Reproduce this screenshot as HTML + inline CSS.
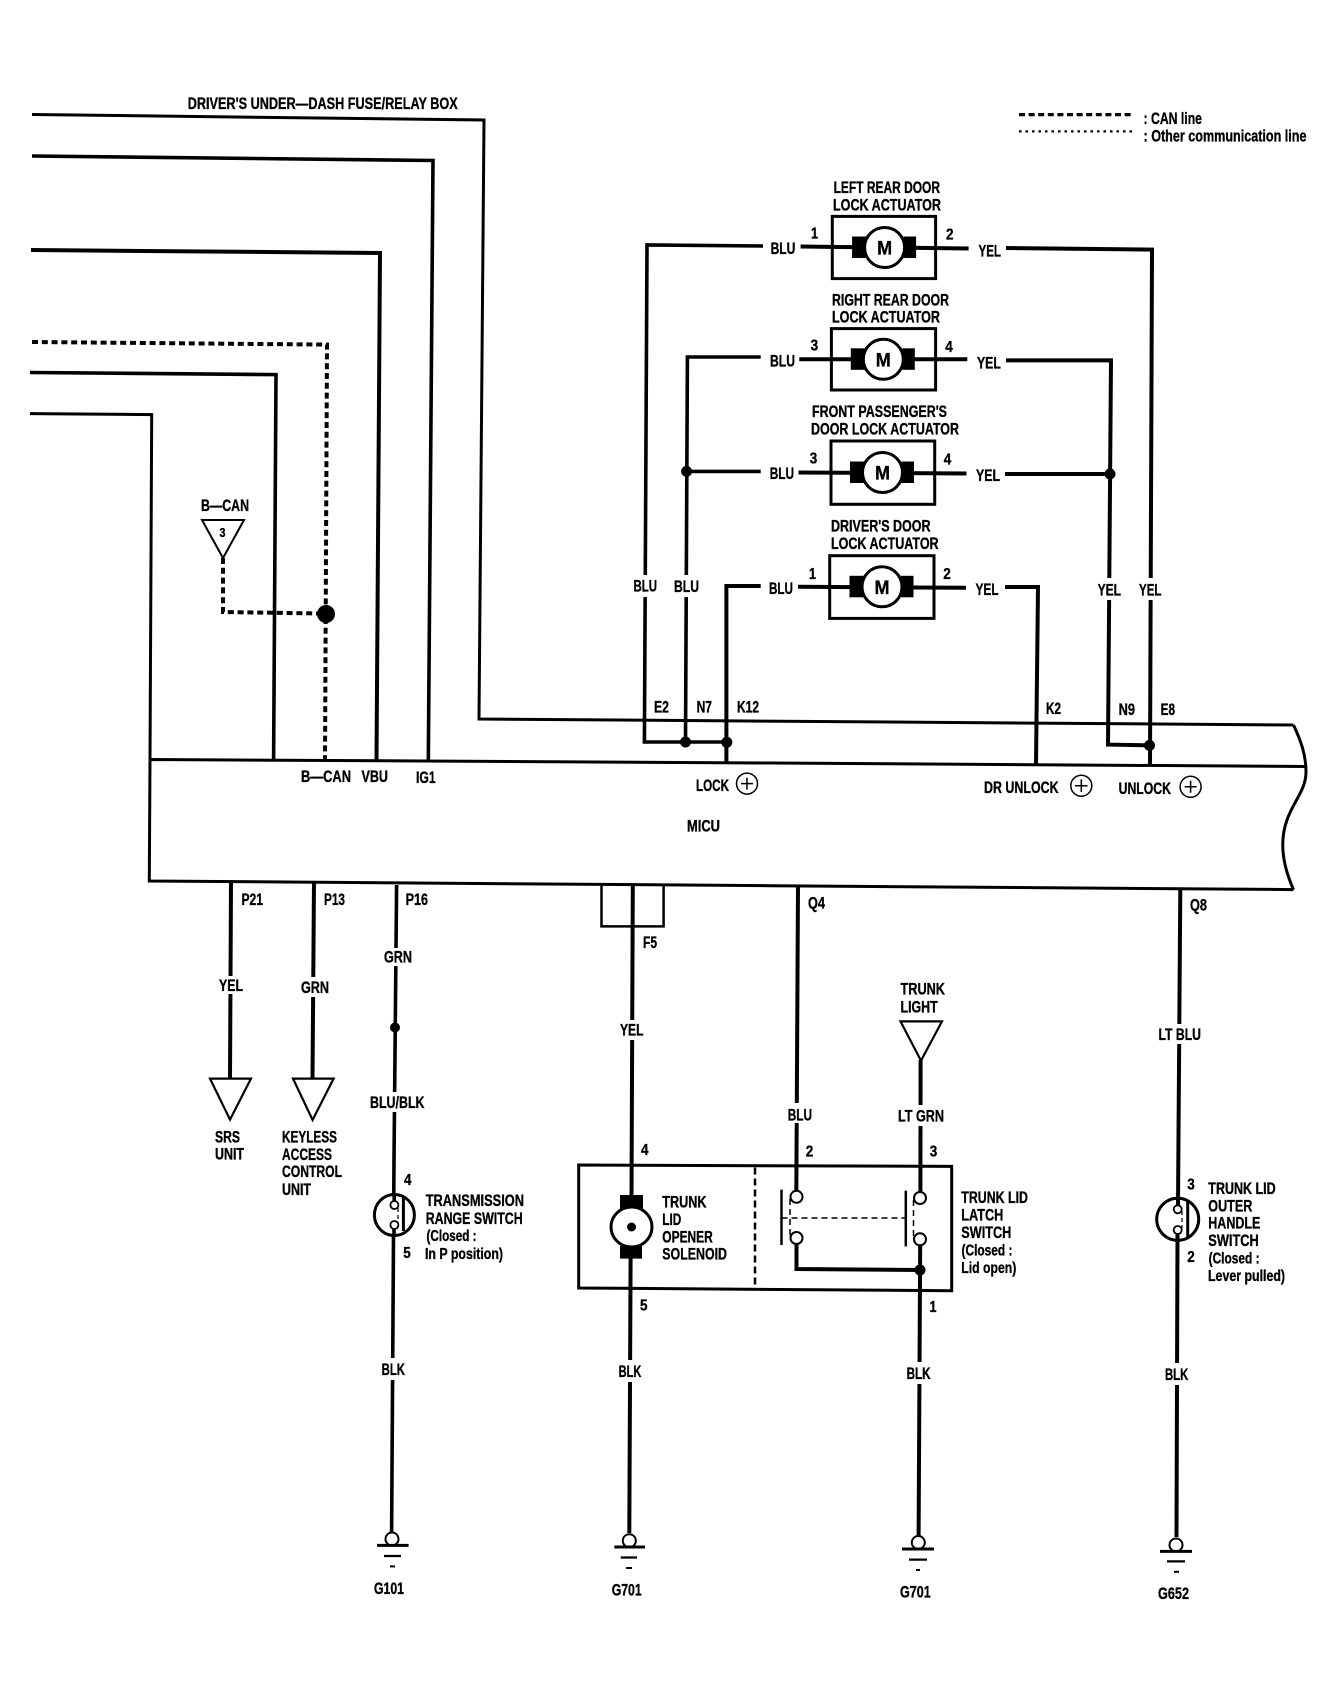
<!DOCTYPE html>
<html lang="en">
<head>
<meta charset="utf-8">
<title>Wiring diagram</title>
<style>
html,body{margin:0;padding:0;background:#fff}
svg{display:block}
text{font-family:"Liberation Sans",sans-serif;font-weight:bold;font-size:17px;fill:#000;stroke:#000;stroke-width:.35px}
.w{stroke:#000;stroke-linejoin:miter}
.w:not([fill]){fill:none}
.p{font-size:16px}
.s{font-size:16px}
</style>
</head>
<body>
<svg xmlns="http://www.w3.org/2000/svg" width="1344" height="1698" viewBox="0 0 1344 1698">
<rect width="1344" height="1698" fill="#fff"/>

<!-- Upper left wires -->
<polyline class="w" stroke-width="3" points="32,114.5 484,120 479,719 1293.5,725"/>
<polyline class="w" stroke-width="3.6" points="32,156 433,160.5 428.3,762"/>
<polyline class="w" stroke-width="4" points="31,250 380,253 376.5,760"/>
<polyline class="w" stroke-width="3.6" points="30,372.5 276,374.6 273.6,760"/>
<polyline class="w" stroke-width="3" points="30,413.6 151.7,414.6 150,760"/>
<polyline class="w" stroke-width="4" stroke-dasharray="6 3.8" points="32,342 327,344.6 325,759"/>
<polyline class="w" stroke-width="4" stroke-dasharray="6 3.8" points="223,558 223,612 325.7,613.6"/>
<ellipse cx="326" cy="614" rx="9" ry="9"/>
<polygon class="w" stroke-width="2" fill="#fff" points="202,520 244,520 223,558"/>

<!-- MICU -->
<path class="w" stroke-width="3" d="M1293.5,889.6 L772,885.7 L149.3,881 L150,759.5 L772,763 L1306,766.5"/>
<path class="w" stroke-width="3" d="M1293.5,725 C1301,741 1306,755 1306,772 C1306,790 1293,802 1287,820 C1279,842 1283,866 1293.5,889.6"/>

<!-- Door actuator wiring -->
<polyline class="w" stroke-width="3.6" points="763,246 647,245 644.4,742 727,742"/>
<polyline class="w" stroke-width="3.6" points="760.7,357 687.4,357 685.5,742"/>
<line class="w" stroke-width="3.6" x1="686.6" y1="471.4" x2="760.7" y2="471.4"/>
<polyline class="w" stroke-width="4" points="760.7,586 726.4,586 726.4,763"/>
<polyline class="w" stroke-width="4" points="1006,248 1152,249.6 1150,766"/>
<polyline class="w" stroke-width="4" points="1006,360.4 1111,360.4 1108,744.6 1149.5,745.4"/>
<line class="w" stroke-width="4" x1="1005" y1="474" x2="1110" y2="474"/>
<polyline class="w" stroke-width="4" points="1005,587 1038,587 1036,764"/>
<circle cx="685.5" cy="742" r="5.5"/>
<circle cx="726.8" cy="742.3" r="5.5"/>
<circle cx="686.6" cy="471.4" r="5.5"/>
<circle cx="1110" cy="474" r="5.5"/>
<circle cx="1149.5" cy="745.4" r="5.5"/>

<!-- Actuators -->
<rect class="w" stroke-width="3" x="832.3" y="216.4" width="103.3" height="62.2" fill="#fff"/>
<rect class="w" stroke-width="3" x="831.4" y="328.6" width="104.2" height="61.4" fill="#fff"/>
<rect class="w" stroke-width="3" x="831" y="441" width="103.7" height="63.3" fill="#fff"/>
<rect class="w" stroke-width="3" x="829.7" y="555.7" width="104.3" height="62.7" fill="#fff"/>

<g transform="translate(884.6,247.5)">
<line class="w" stroke-width="4" x1="-84" y1="-1" x2="84" y2="1"/>
<rect x="-32.5" y="-11" width="14" height="21.5"/><rect x="19" y="-11" width="12.5" height="21.5"/>
<circle class="w" stroke-width="3" r="20" fill="#fff"/>
<text x="-7.5" y="7" style="font-size:19px" textLength="15" lengthAdjust="spacingAndGlyphs">M</text>
</g>
<g transform="translate(883.3,359.3)">
<line class="w" stroke-width="4" x1="-84" y1="0" x2="84" y2="0"/>
<rect x="-32.5" y="-11" width="14" height="21.5"/><rect x="19" y="-11" width="12.5" height="21.5"/>
<circle class="w" stroke-width="3" r="20" fill="#fff"/>
<text x="-7.5" y="7" style="font-size:19px" textLength="15" lengthAdjust="spacingAndGlyphs">M</text>
</g>
<g transform="translate(882.5,472.5)">
<line class="w" stroke-width="4" x1="-84" y1="0" x2="84" y2="1"/>
<rect x="-32.5" y="-11" width="14" height="21.5"/><rect x="19" y="-11" width="12.5" height="21.5"/>
<circle class="w" stroke-width="3" r="20" fill="#fff"/>
<text x="-7.5" y="7" style="font-size:19px" textLength="15" lengthAdjust="spacingAndGlyphs">M</text>
</g>
<g transform="translate(882,586.8)">
<line class="w" stroke-width="4" x1="-84" y1="0" x2="84" y2="1"/>
<rect x="-32.5" y="-11" width="14" height="21.5"/><rect x="19" y="-11" width="12.5" height="21.5"/>
<circle class="w" stroke-width="3" r="20" fill="#fff"/>
<text x="-7.5" y="7" style="font-size:19px" textLength="15" lengthAdjust="spacingAndGlyphs">M</text>
</g>

<!-- Lower wires -->
<polyline class="w" stroke-width="4" points="231,881 230,1078.6"/>
<polyline class="w" stroke-width="4" points="314,882 312.5,1078.6"/>
<polyline class="w" stroke-width="3.6" points="396.6,885 394,1160 391.6,1533"/>
<circle cx="395" cy="1027.5" r="5"/>
<polygon class="w" stroke-width="2.2" fill="#fff" points="210,1078.6 251,1078.6 230,1119.6"/>
<polygon class="w" stroke-width="2.2" fill="#fff" points="293,1078.6 333.6,1078.6 312.6,1120"/>
<polygon class="w" stroke-width="2.2" fill="#fff" points="900.5,1021.4 942,1021.4 921,1060.7"/>
<polyline class="w" stroke-width="2.5" points="601.5,885.7 601.5,926.4 663.6,926.4 663.6,886"/>
<polyline class="w" stroke-width="4" points="632.8,886 631.5,1195"/>
<polyline class="w" stroke-width="4" points="630.6,1258 629.3,1533"/>
<polyline class="w" stroke-width="4" points="798,885 796.3,1196"/>
<polyline class="w" stroke-width="4" points="1180.3,889 1178,1205"/>
<polyline class="w" stroke-width="4" points="1177.5,1232 1176.5,1537"/>
<polyline class="w" stroke-width="4" points="920.6,1060 920.4,1197"/>
<polyline class="w" stroke-width="4" points="920.2,1240 918.6,1537"/>

<!-- Trunk box -->
<polygon class="w" stroke-width="3" points="578.7,1165 951.7,1166.4 951.7,1290.7 578.7,1288"/>
<line class="w" stroke-width="2.5" stroke-dasharray="7 4" x1="755" y1="1167.5" x2="755" y2="1287"/>
<rect x="620" y="1195" width="23" height="13.6"/>
<rect x="620" y="1246" width="22" height="12.6"/>
<ellipse class="w" stroke-width="3" cx="631.5" cy="1227" rx="20.5" ry="20" fill="#fff"/>
<circle cx="631.5" cy="1227" r="4.5"/>
<polyline class="w" stroke-width="4" points="796.5,1242 796.5,1269 920,1270"/>
<circle cx="920" cy="1270" r="5.5"/>
<line class="w" stroke-width="2.5" x1="781.5" y1="1189.6" x2="781.5" y2="1245"/>
<line class="w" stroke-width="2.5" x1="905.8" y1="1190.7" x2="905.8" y2="1246.4"/>
<line class="w" stroke-width="1.5" stroke-dasharray="6 4" x1="781.5" y1="1218" x2="905" y2="1218"/>
<line class="w" stroke-width="1.5" stroke-dasharray="6 4" x1="790" y1="1199" x2="790" y2="1236"/>
<line class="w" stroke-width="1.5" stroke-dasharray="6 4" x1="913.5" y1="1200" x2="913.5" y2="1238"/>
<circle class="w" stroke-width="2" cx="796.5" cy="1196.8" r="6" fill="#fff"/>
<circle class="w" stroke-width="2" cx="796.5" cy="1238" r="6" fill="#fff"/>
<circle class="w" stroke-width="2" cx="920" cy="1198" r="6" fill="#fff"/>
<circle class="w" stroke-width="2" cx="920" cy="1239.3" r="6" fill="#fff"/>

<!-- Round switches -->
<ellipse class="w" stroke-width="3" cx="394.4" cy="1215" rx="20" ry="20.5" fill="#fff"/>
<line class="w" stroke-width="3.6" x1="394.2" y1="1194" x2="394.2" y2="1201"/>
<line class="w" stroke-width="3.6" x1="394" y1="1229" x2="394" y2="1237"/>
<line class="w" stroke-width="3" x1="403.4" y1="1198" x2="403.4" y2="1231"/>
<line class="w" stroke-width="1.2" stroke-dasharray="4 3" x1="398" y1="1208" x2="398" y2="1224"/>
<circle class="w" stroke-width="1.8" cx="394.4" cy="1205" r="4" fill="#fff"/>
<circle class="w" stroke-width="1.8" cx="394.4" cy="1225" r="4" fill="#fff"/>

<ellipse class="w" stroke-width="3" cx="1177.7" cy="1219.3" rx="21" ry="21" fill="#fff"/>
<line class="w" stroke-width="4" x1="1178" y1="1198" x2="1178" y2="1206"/>
<line class="w" stroke-width="4" x1="1177.5" y1="1234" x2="1177.5" y2="1242"/>
<line class="w" stroke-width="3" x1="1187.7" y1="1201" x2="1187.7" y2="1237"/>
<line class="w" stroke-width="1.2" stroke-dasharray="4 3" x1="1182" y1="1211" x2="1182" y2="1228"/>
<circle class="w" stroke-width="1.8" cx="1177.7" cy="1209.3" r="4" fill="#fff"/>
<circle class="w" stroke-width="1.8" cx="1177.7" cy="1230" r="4" fill="#fff"/>

<!-- Grounds -->
<circle class="w" stroke-width="2" cx="392" cy="1539" r="6.5" fill="#fff"/>
<line class="w" stroke-width="3" x1="377" y1="1545.4" x2="408.6" y2="1545.4"/>
<line class="w" stroke-width="2.2" x1="384" y1="1556" x2="401" y2="1556"/>
<line class="w" stroke-width="2" x1="390" y1="1566.4" x2="395" y2="1566.4"/>

<circle class="w" stroke-width="2" cx="629.3" cy="1540.7" r="6.5" fill="#fff"/>
<line class="w" stroke-width="3" x1="614.3" y1="1547" x2="645" y2="1547"/>
<line class="w" stroke-width="2.2" x1="620.7" y1="1557.5" x2="637" y2="1557.5"/>
<line class="w" stroke-width="2" x1="626" y1="1568" x2="632" y2="1568"/>

<circle class="w" stroke-width="2" cx="918.3" cy="1542.5" r="6.5" fill="#fff"/>
<line class="w" stroke-width="3" x1="902" y1="1549" x2="934" y2="1549"/>
<line class="w" stroke-width="2.2" x1="909" y1="1559.6" x2="927" y2="1559.6"/>
<line class="w" stroke-width="2" x1="916" y1="1570" x2="920" y2="1570"/>

<circle class="w" stroke-width="2" cx="1176" cy="1545" r="6.5" fill="#fff"/>
<line class="w" stroke-width="3" x1="1160" y1="1551.4" x2="1192" y2="1551.4"/>
<line class="w" stroke-width="2.2" x1="1167" y1="1561.4" x2="1185" y2="1561.4"/>
<line class="w" stroke-width="2" x1="1174" y1="1571.8" x2="1179" y2="1571.8"/>

<!-- Circle plus -->
<g class="w" stroke-width="1.5">
<circle cx="747" cy="783.6" r="10.5" fill="#fff"/><path d="M741,783.6H753M747,777.6V789.6"/>
<circle cx="1081.3" cy="785.7" r="10.5" fill="#fff"/><path d="M1075,785.7H1087.6M1081.3,779.4V792"/>
<circle cx="1190.6" cy="786.8" r="10.5" fill="#fff"/><path d="M1184.6,786.8H1196.6M1190.6,780.8V792.8"/>
</g>

<!-- Legend -->
<line class="w" stroke-width="3.2" stroke-dasharray="6 3.6" x1="1019" y1="114.6" x2="1133.6" y2="114.6"/>
<line class="w" stroke-width="2.2" stroke-dasharray="2.5 4" x1="1019" y1="131.4" x2="1133.6" y2="131.4"/>

<!-- Label gaps -->
<g fill="#fff">
<rect x="640" y="575" width="12" height="22"/>
<rect x="680" y="575" width="12" height="22"/>
<rect x="1103" y="578" width="12" height="22"/>
<rect x="1144" y="578" width="12" height="22"/>
<rect x="225" y="976" width="12" height="18"/>
<rect x="307" y="977" width="12" height="20"/>
<rect x="389" y="948" width="12" height="18"/>
<rect x="388" y="1092" width="12" height="20"/>
<rect x="626" y="1020" width="12" height="20"/>
<rect x="791" y="1103" width="12" height="20"/>
<rect x="915" y="1105" width="12" height="21"/>
<rect x="1173" y="1024" width="12" height="20"/>
<rect x="387" y="1358" width="10" height="22"/>
<rect x="624" y="1360" width="10" height="22"/>
<rect x="913" y="1362" width="11" height="22"/>
<rect x="1172" y="1363" width="10" height="22"/>
</g>

<!-- Text -->
<text x="187.7" y="109" textLength="270" lengthAdjust="spacingAndGlyphs">DRIVER'S UNDER—DASH FUSE/RELAY BOX</text>
<text x="1143.5" y="124" textLength="58.5" lengthAdjust="spacingAndGlyphs">: CAN line</text>
<text x="1143.5" y="141.5" textLength="163" lengthAdjust="spacingAndGlyphs">: Other communication line</text>

<text x="833.6" y="193" textLength="106.4" lengthAdjust="spacingAndGlyphs">LEFT REAR DOOR</text>
<text x="833" y="210.3" textLength="108" lengthAdjust="spacingAndGlyphs">LOCK ACTUATOR</text>
<text x="832" y="305.3" textLength="117" lengthAdjust="spacingAndGlyphs">RIGHT REAR DOOR</text>
<text x="832" y="322.4" textLength="108" lengthAdjust="spacingAndGlyphs">LOCK ACTUATOR</text>
<text x="812" y="417" textLength="135" lengthAdjust="spacingAndGlyphs">FRONT PASSENGER'S</text>
<text x="811" y="434.6" textLength="148" lengthAdjust="spacingAndGlyphs">DOOR LOCK ACTUATOR</text>
<text x="831" y="531.7" textLength="99.5" lengthAdjust="spacingAndGlyphs">DRIVER'S DOOR</text>
<text x="831" y="549" textLength="107.6" lengthAdjust="spacingAndGlyphs">LOCK ACTUATOR</text>

<text x="770.6" y="254" textLength="24.8" lengthAdjust="spacingAndGlyphs">BLU</text>
<text x="978.5" y="256.4" textLength="22.5" lengthAdjust="spacingAndGlyphs">YEL</text>
<text x="770" y="366.7" textLength="25" lengthAdjust="spacingAndGlyphs">BLU</text>
<text x="977" y="368.5" textLength="23.8" lengthAdjust="spacingAndGlyphs">YEL</text>
<text x="769.7" y="479" textLength="24.3" lengthAdjust="spacingAndGlyphs">BLU</text>
<text x="976" y="481" textLength="24" lengthAdjust="spacingAndGlyphs">YEL</text>
<text x="769" y="594" textLength="24" lengthAdjust="spacingAndGlyphs">BLU</text>
<text x="975.5" y="595" textLength="23.1" lengthAdjust="spacingAndGlyphs">YEL</text>

<text class="p" x="811" y="238.5" textLength="7" lengthAdjust="spacingAndGlyphs">1</text>
<text class="p" x="946" y="239.5" textLength="7.5" lengthAdjust="spacingAndGlyphs">2</text>
<text class="p" x="810.6" y="350.5" textLength="7.5" lengthAdjust="spacingAndGlyphs">3</text>
<text class="p" x="945.3" y="352" textLength="7.5" lengthAdjust="spacingAndGlyphs">4</text>
<text class="p" x="809.7" y="463.5" textLength="7.5" lengthAdjust="spacingAndGlyphs">3</text>
<text class="p" x="943.8" y="464.5" textLength="7.5" lengthAdjust="spacingAndGlyphs">4</text>
<text class="p" x="809" y="579" textLength="7" lengthAdjust="spacingAndGlyphs">1</text>
<text class="p" x="943.2" y="579" textLength="7.5" lengthAdjust="spacingAndGlyphs">2</text>

<text x="633.5" y="591.7" textLength="23.5" lengthAdjust="spacingAndGlyphs">BLU</text>
<text x="674" y="592" textLength="25" lengthAdjust="spacingAndGlyphs">BLU</text>
<text x="1097.6" y="595.6" textLength="23.4" lengthAdjust="spacingAndGlyphs">YEL</text>
<text x="1139" y="595.6" textLength="22.5" lengthAdjust="spacingAndGlyphs">YEL</text>

<text x="201" y="511" textLength="48" lengthAdjust="spacingAndGlyphs">B—CAN</text>
<text class="s" x="219.5" y="537" style="font-size:13px" textLength="6" lengthAdjust="spacingAndGlyphs">3</text>

<text x="654" y="712.5" textLength="15" lengthAdjust="spacingAndGlyphs">E2</text>
<text x="696.6" y="712.5" textLength="15.4" lengthAdjust="spacingAndGlyphs">N7</text>
<text x="737" y="712.5" textLength="22" lengthAdjust="spacingAndGlyphs">K12</text>
<text x="1046" y="714" textLength="15" lengthAdjust="spacingAndGlyphs">K2</text>
<text x="1118.6" y="715" textLength="16.4" lengthAdjust="spacingAndGlyphs">N9</text>
<text x="1160.6" y="715" textLength="14.4" lengthAdjust="spacingAndGlyphs">E8</text>

<text x="301" y="782" textLength="50" lengthAdjust="spacingAndGlyphs">B—CAN</text>
<text x="361.5" y="782" textLength="26.5" lengthAdjust="spacingAndGlyphs">VBU</text>
<text x="416" y="783" textLength="19.6" lengthAdjust="spacingAndGlyphs">IG1</text>
<text x="696" y="791" textLength="33" lengthAdjust="spacingAndGlyphs">LOCK</text>
<text x="687" y="831.7" textLength="33" lengthAdjust="spacingAndGlyphs">MICU</text>
<text x="984" y="793" textLength="74.6" lengthAdjust="spacingAndGlyphs">DR UNLOCK</text>
<text x="1118.6" y="794" textLength="52.4" lengthAdjust="spacingAndGlyphs">UNLOCK</text>

<text x="241.5" y="905" textLength="21.5" lengthAdjust="spacingAndGlyphs">P21</text>
<text x="324" y="905" textLength="21" lengthAdjust="spacingAndGlyphs">P13</text>
<text x="405.6" y="905" textLength="22.4" lengthAdjust="spacingAndGlyphs">P16</text>
<text x="643" y="948" textLength="14" lengthAdjust="spacingAndGlyphs">F5</text>
<text x="808" y="908.5" textLength="17" lengthAdjust="spacingAndGlyphs">Q4</text>
<text x="1190" y="910.6" textLength="17" lengthAdjust="spacingAndGlyphs">Q8</text>

<text x="219" y="991" textLength="24" lengthAdjust="spacingAndGlyphs">YEL</text>
<text x="301" y="993" textLength="28" lengthAdjust="spacingAndGlyphs">GRN</text>
<text x="384" y="962.4" textLength="28" lengthAdjust="spacingAndGlyphs">GRN</text>
<text x="370" y="1107.8" textLength="54.5" lengthAdjust="spacingAndGlyphs">BLU/BLK</text>
<text x="620" y="1035.6" textLength="23.5" lengthAdjust="spacingAndGlyphs">YEL</text>
<text x="787.7" y="1120.3" textLength="24.3" lengthAdjust="spacingAndGlyphs">BLU</text>
<text x="898" y="1121.4" textLength="46" lengthAdjust="spacingAndGlyphs">LT GRN</text>
<text x="1158.5" y="1040" textLength="42.5" lengthAdjust="spacingAndGlyphs">LT BLU</text>

<text x="215" y="1142.4" textLength="25" lengthAdjust="spacingAndGlyphs">SRS</text>
<text x="215" y="1159.6" textLength="29" lengthAdjust="spacingAndGlyphs">UNIT</text>
<text x="282" y="1142.6" textLength="55" lengthAdjust="spacingAndGlyphs">KEYLESS</text>
<text x="282" y="1160" textLength="50" lengthAdjust="spacingAndGlyphs">ACCESS</text>
<text x="282" y="1177" textLength="60" lengthAdjust="spacingAndGlyphs">CONTROL</text>
<text x="282" y="1194.8" textLength="29" lengthAdjust="spacingAndGlyphs">UNIT</text>

<text x="900.5" y="994.6" textLength="44.5" lengthAdjust="spacingAndGlyphs">TRUNK</text>
<text x="900.5" y="1012.4" textLength="37.2" lengthAdjust="spacingAndGlyphs">LIGHT</text>

<text class="p" x="641" y="1155" textLength="7.5" lengthAdjust="spacingAndGlyphs">4</text>
<text class="p" x="805.8" y="1156.7" textLength="7.5" lengthAdjust="spacingAndGlyphs">2</text>
<text class="p" x="929.7" y="1156.7" textLength="7.5" lengthAdjust="spacingAndGlyphs">3</text>
<text class="p" x="404" y="1185" textLength="7.5" lengthAdjust="spacingAndGlyphs">4</text>
<text class="p" x="403.3" y="1258" textLength="7.5" lengthAdjust="spacingAndGlyphs">5</text>
<text class="p" x="640" y="1310.6" textLength="7.5" lengthAdjust="spacingAndGlyphs">5</text>
<text class="p" x="929.5" y="1312" textLength="7" lengthAdjust="spacingAndGlyphs">1</text>
<text class="p" x="1187.3" y="1189.6" textLength="7.5" lengthAdjust="spacingAndGlyphs">3</text>
<text class="p" x="1187.3" y="1262" textLength="7.5" lengthAdjust="spacingAndGlyphs">2</text>

<text x="425.7" y="1206" textLength="98.3" lengthAdjust="spacingAndGlyphs">TRANSMISSION</text>
<text x="425.7" y="1224" textLength="97" lengthAdjust="spacingAndGlyphs">RANGE SWITCH</text>
<text class="s" x="426.5" y="1241" textLength="50" lengthAdjust="spacingAndGlyphs">(Closed :</text>
<text class="s" x="425" y="1259" textLength="78" lengthAdjust="spacingAndGlyphs">In P position)</text>

<text x="662.3" y="1207.4" textLength="44.2" lengthAdjust="spacingAndGlyphs">TRUNK</text>
<text x="662.3" y="1225" textLength="19" lengthAdjust="spacingAndGlyphs">LID</text>
<text x="662.3" y="1242.4" textLength="50.5" lengthAdjust="spacingAndGlyphs">OPENER</text>
<text x="662.3" y="1259.6" textLength="64.7" lengthAdjust="spacingAndGlyphs">SOLENOID</text>

<text x="961.3" y="1202.8" textLength="66.7" lengthAdjust="spacingAndGlyphs">TRUNK LID</text>
<text x="961.3" y="1220.3" textLength="42" lengthAdjust="spacingAndGlyphs">LATCH</text>
<text x="961.3" y="1237.8" textLength="50" lengthAdjust="spacingAndGlyphs">SWITCH</text>
<text class="s" x="961.5" y="1255.3" textLength="51" lengthAdjust="spacingAndGlyphs">(Closed :</text>
<text class="s" x="961.3" y="1272.8" textLength="55" lengthAdjust="spacingAndGlyphs">Lid open)</text>

<text x="1208.3" y="1194" textLength="67.4" lengthAdjust="spacingAndGlyphs">TRUNK LID</text>
<text x="1208.3" y="1211.4" textLength="44" lengthAdjust="spacingAndGlyphs">OUTER</text>
<text x="1208.3" y="1228.5" textLength="52" lengthAdjust="spacingAndGlyphs">HANDLE</text>
<text x="1208.3" y="1246" textLength="50.5" lengthAdjust="spacingAndGlyphs">SWITCH</text>
<text class="s" x="1208.6" y="1263.5" textLength="51" lengthAdjust="spacingAndGlyphs">(Closed :</text>
<text class="s" x="1208" y="1281" textLength="77" lengthAdjust="spacingAndGlyphs">Lever pulled)</text>

<text x="381.6" y="1375" textLength="23.4" lengthAdjust="spacingAndGlyphs">BLK</text>
<text x="618.6" y="1377" textLength="22.7" lengthAdjust="spacingAndGlyphs">BLK</text>
<text x="906.6" y="1379" textLength="24" lengthAdjust="spacingAndGlyphs">BLK</text>
<text x="1165" y="1380" textLength="23.3" lengthAdjust="spacingAndGlyphs">BLK</text>

<text x="374" y="1594" textLength="30" lengthAdjust="spacingAndGlyphs">G101</text>
<text x="611.7" y="1595.6" textLength="30" lengthAdjust="spacingAndGlyphs">G701</text>
<text x="900" y="1597.4" textLength="30.7" lengthAdjust="spacingAndGlyphs">G701</text>
<text x="1158" y="1599" textLength="31" lengthAdjust="spacingAndGlyphs">G652</text>
</svg>
</body>
</html>
